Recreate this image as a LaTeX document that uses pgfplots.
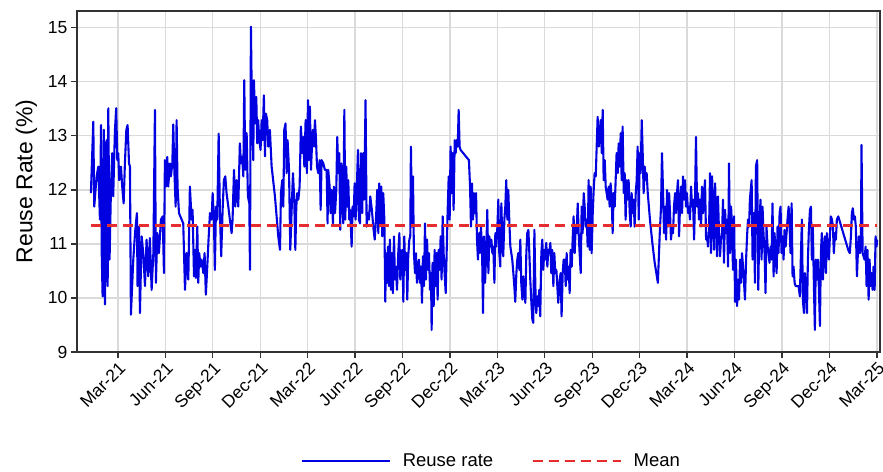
\documentclass[border=0pt]{standalone}
\usepackage{pgfplots}
\pgfplotsset{compat=1.18}
\usepackage{fontspec}
\setmainfont{Liberation Sans}
\definecolor{lineblue}{RGB}{0,0,225}
\definecolor{meanred}{RGB}{230,45,45}
\definecolor{gridgray}{RGB}{218,218,218}
\definecolor{axgray}{RGB}{50,50,50}
\begin{document}
\begin{tikzpicture}
\begin{axis}[
  scale only axis, width=803pt, height=341pt,
  xmin=-2.59, xmax=48.2, ymin=9, ymax=15.31,
  xtick={0,3,...,48},
  xticklabels={Mar-21,Jun-21,Sep-21,Dec-21,Mar-22,Jun-22,Sep-22,Dec-22,Mar-23,Jun-23,Sep-23,Dec-23,Mar-24,Jun-24,Sep-24,Dec-24,Mar-25},
  ytick={9,10,...,15},
  /pgf/number format/assume math mode=true,
  x tick label style={rotate=45, anchor=north east, font=\fontsize{17.5}{20}\selectfont, inner sep=2pt},
  y tick label style={font=\fontsize{17.5}{20}\selectfont},
  tick align=outside, xtick pos=bottom, ytick pos=left,
  major tick length=6pt,
  tick style={axgray, line width=1.3pt},
  grid=major, grid style={gridgray, line width=1.3pt},
  axis line style={axgray, line width=1.5pt},
  every axis y label/.style={at={(axis description cs:-0.063,0.5)}, rotate=90, anchor=center},
  ylabel={Reuse Rate (\%)}, ylabel style={font=\fontsize{23}{27}\selectfont},
  legend style={at={(0.516,-0.32)}, anchor=center, draw=none, fill=none, legend columns=2,
    font=\fontsize{18.5}{21}\selectfont,
    /tikz/every odd column/.append style={column sep=10pt},
    /tikz/every even column/.append style={column sep=36pt}},
  legend image code/.code={\draw[#1] (0pt,0pt) -- (88pt,0pt);},
]
\addplot[lineblue, line width=2.1pt, line join=round] table {
x y
-1.71 11.94
-1.56 13.26
-1.50 11.69
-1.35 12.25
-1.24 12.43
-1.14 11.45
-1.07 13.20
-1.03 10.89
-0.97 10.03
-0.89 13.11
-0.82 9.88
-0.72 12.92
-0.65 10.22
-0.61 13.51
-0.53 10.71
-0.44 12.06
-0.36 12.68
-0.30 11.88
-0.19 13.11
-0.11 13.51
-0.04 12.55
0.02 12.68
0.08 12.18
0.19 12.43
0.27 12.06
0.36 11.75
0.44 12.49
0.53 13.11
0.61 13.20
0.70 12.49
0.76 12.43
0.82 9.69
0.97 10.71
1.08 11.20
1.20 11.57
1.24 10.22
1.33 11.32
1.39 9.72
1.50 11.14
1.60 10.83
1.71 10.22
1.81 11.08
1.92 10.40
2.02 11.11
2.13 10.15
2.24 10.83
2.34 13.48
2.40 10.28
2.49 11.20
2.59 10.83
2.72 11.45
2.83 11.51
2.91 10.46
2.97 12.55
3.04 12.06
3.12 12.61
3.18 12.06
3.29 12.49
3.35 12.25
3.44 12.49
3.50 13.21
3.56 12.43
3.65 11.69
3.71 13.29
3.77 12.06
3.86 11.57
4.03 11.45
4.13 11.38
4.24 10.15
4.34 10.83
4.45 10.34
4.55 12.06
4.66 11.45
4.72 11.63
4.81 10.40
4.87 10.89
4.93 10.37
5.02 11.32
5.08 10.28
5.14 10.83
5.23 10.58
5.29 10.71
5.40 10.46
5.48 10.83
5.56 10.06
5.65 10.58
5.73 11.08
5.82 11.57
5.92 11.45
5.99 11.94
6.07 11.45
6.13 10.52
6.20 11.69
6.28 11.45
6.37 13.04
6.45 11.57
6.53 10.77
6.62 11.63
6.70 12.18
6.79 12.25
6.87 11.94
6.98 11.69
7.08 11.45
7.19 11.20
7.25 11.45
7.34 12.37
7.42 11.69
7.50 12.18
7.61 11.69
7.71 12.86
7.78 12.49
7.86 12.61
7.93 12.25
7.99 14.03
8.05 12.37
8.14 13.05
8.22 11.88
8.31 11.75
8.35 10.52
8.41 15.02
8.47 13.60
8.56 12.55
8.60 14.03
8.68 13.23
8.75 13.72
8.81 12.86
8.87 13.29
8.94 12.92
9.02 12.74
9.09 13.29
9.15 12.92
9.23 13.75
9.30 12.62
9.36 13.41
9.44 13.29
9.51 12.80
9.61 13.11
9.72 12.43
9.93 11.88
10.14 11.14
10.25 10.89
10.31 11.94
10.39 12.18
10.46 11.69
10.52 13.11
10.60 13.23
10.67 12.31
10.73 12.92
10.82 12.37
10.90 10.89
10.98 11.57
11.07 12.31
11.15 11.82
11.22 10.89
11.28 11.69
11.34 11.94
11.41 11.82
11.49 12.06
11.57 13.17
11.66 12.68
11.72 12.98
11.79 12.43
11.87 13.29
11.95 12.31
12.02 13.66
12.08 12.55
12.14 13.54
12.21 12.37
12.27 12.80
12.33 13.11
12.40 12.80
12.46 13.29
12.52 12.98
12.59 12.43
12.67 12.31
12.76 12.55
12.82 11.63
12.88 12.55
12.99 12.49
13.09 12.37
13.20 12.37
13.26 11.38
13.30 12.37
13.39 12.06
13.45 11.57
13.51 12.00
13.60 11.38
13.66 12.06
13.73 11.57
13.81 12.00
13.87 12.98
13.94 12.31
14.00 12.68
14.06 11.26
14.13 12.49
14.19 12.18
14.25 11.38
14.32 13.48
14.38 11.45
14.44 12.43
14.51 11.69
14.57 12.18
14.63 11.45
14.69 11.63
14.78 10.95
14.84 11.69
14.91 11.51
14.97 12.12
15.03 11.45
15.10 11.94
15.18 12.74
15.24 11.45
15.31 11.38
15.37 12.68
15.45 11.57
15.52 12.68
15.58 11.82
15.66 13.66
15.73 11.32
15.79 11.57
15.88 11.45
15.96 11.88
16.06 11.63
16.15 11.32
16.24 11.08
16.32 11.45
16.40 12.00
16.47 11.20
16.53 12.12
16.59 11.38
16.66 12.06
16.72 11.14
16.78 11.94
16.85 11.45
16.91 9.93
16.95 10.83
17.02 10.28
17.08 10.95
17.14 10.22
17.20 11.08
17.27 10.15
17.33 10.83
17.39 10.09
17.46 11.14
17.52 10.34
17.58 10.58
17.65 10.15
17.73 10.83
17.80 11.20
17.86 10.34
17.92 10.83
17.99 10.89
18.05 9.93
18.11 11.14
18.17 10.52
18.24 10.83
18.30 9.97
18.36 10.77
18.43 11.08
18.49 11.14
18.53 12.80
18.60 11.32
18.66 12.25
18.72 10.83
18.79 10.46
18.85 10.83
18.91 10.28
18.98 10.52
19.04 10.71
19.10 10.28
19.17 10.58
19.23 9.91
19.29 10.77
19.36 10.22
19.42 11.38
19.48 10.34
19.55 11.08
19.61 10.52
19.67 10.83
19.74 10.15
19.80 10.46
19.84 9.41
19.90 10.65
19.97 9.85
20.03 10.89
20.09 10.22
20.16 10.83
20.22 9.97
20.28 10.89
20.35 10.52
20.41 11.14
20.47 10.34
20.54 11.51
20.60 10.83
20.66 10.46
20.73 10.09
20.79 10.83
20.85 11.57
20.92 12.25
20.98 11.45
21.04 12.80
21.11 11.94
21.17 12.68
21.23 11.63
21.30 12.92
21.36 12.68
21.42 12.92
21.49 12.80
21.55 13.48
21.61 12.80
21.67 12.74
22.20 12.55
22.27 12.06
22.33 11.32
22.39 12.12
22.46 11.45
22.52 11.94
22.58 11.57
22.65 11.94
22.71 11.08
22.77 10.71
22.84 11.20
22.90 10.83
22.96 11.32
23.03 10.89
23.09 9.72
23.15 11.14
23.22 10.28
23.30 10.89
23.36 11.63
23.43 10.46
23.49 11.14
23.55 10.95
23.62 11.08
23.68 10.83
23.74 10.95
23.81 10.28
23.87 11.20
23.93 10.95
24.00 11.32
24.06 11.82
24.12 10.83
24.18 10.58
24.25 11.75
24.31 11.08
24.37 10.77
24.44 11.45
24.50 11.69
24.56 12.18
24.63 11.45
24.69 12.00
24.75 11.45
24.82 10.95
24.88 10.83
24.94 10.71
25.01 10.46
25.07 10.22
25.13 9.93
25.20 10.46
25.26 10.71
25.32 10.83
25.39 10.52
25.45 11.08
25.51 10.28
25.58 9.97
25.64 10.40
25.70 10.09
25.77 9.91
25.83 10.83
25.89 11.20
25.96 11.26
26.02 10.83
26.08 10.34
26.15 9.91
26.21 9.60
26.27 9.54
26.34 11.26
26.40 10.22
26.46 9.72
26.53 10.03
26.59 9.85
26.65 10.15
26.71 9.66
26.78 10.83
26.84 11.08
26.90 10.52
26.97 10.89
27.03 10.71
27.09 11.02
27.16 10.58
27.22 10.89
27.28 10.83
27.35 11.02
27.41 10.46
27.47 10.89
27.54 10.22
27.60 10.83
27.66 10.46
27.73 10.52
27.79 10.22
27.85 9.91
27.94 10.34
28.00 10.46
28.06 9.66
28.13 10.46
28.19 10.71
28.26 10.71
28.32 10.22
28.38 10.83
28.44 10.34
28.51 10.58
28.57 10.09
28.63 10.89
28.70 10.58
28.76 11.08
28.82 11.51
28.89 10.83
28.95 11.32
29.01 11.20
29.08 11.75
29.14 11.20
29.20 10.83
29.27 10.46
29.33 11.69
29.39 11.20
29.46 11.94
29.52 11.69
29.58 11.32
29.65 11.45
29.71 10.95
29.77 12.18
29.84 10.89
29.90 12.06
29.96 10.83
30.03 11.57
30.09 12.00
30.15 12.31
30.22 12.25
30.28 12.80
30.34 13.35
30.41 12.80
30.47 13.05
30.53 13.29
30.60 12.68
30.66 13.48
30.72 12.18
30.79 12.55
30.85 12.06
30.91 11.94
30.97 11.82
31.04 12.06
31.10 11.69
31.16 12.12
31.23 11.82
31.29 11.20
31.35 11.94
31.42 11.69
31.48 12.18
31.54 12.68
31.61 12.31
31.67 12.86
31.73 12.43
31.80 13.05
31.86 12.18
31.92 13.17
31.99 11.94
32.05 12.31
32.11 11.45
32.18 12.18
32.24 11.82
32.30 12.18
32.37 11.57
32.43 11.32
32.49 11.94
32.56 11.57
32.62 11.82
32.68 11.32
32.75 11.94
32.81 12.18
32.87 12.80
32.94 11.45
33.00 12.68
33.06 12.31
33.13 13.29
33.19 12.68
33.25 11.94
33.32 12.43
33.38 12.18
33.44 12.31
33.51 11.94
33.65 11.45
33.80 11.02
33.95 10.65
34.15 10.28
34.27 11.20
34.35 11.69
34.41 12.68
34.48 11.94
34.54 11.20
34.60 11.69
34.67 11.08
34.73 12.00
34.79 11.32
34.86 11.94
34.92 11.57
34.98 11.08
35.05 11.32
35.11 11.20
35.17 11.69
35.24 11.94
35.30 11.57
35.36 11.94
35.42 12.18
35.49 11.14
35.55 11.69
35.61 12.06
35.68 11.57
35.74 12.25
35.80 11.82
35.87 12.18
35.93 11.69
35.99 11.94
36.06 11.57
36.12 11.69
36.18 11.45
36.25 12.06
36.31 11.69
36.37 11.82
36.44 11.08
36.50 11.82
36.56 12.98
36.63 11.69
36.69 11.94
36.75 11.45
36.82 11.82
36.88 11.32
36.94 12.06
37.01 11.57
37.07 11.88
37.13 12.18
37.20 11.08
37.26 11.14
37.32 10.95
37.39 11.32
37.45 12.31
37.51 10.83
37.58 12.25
37.64 11.57
37.70 10.89
37.77 12.12
37.83 11.45
37.89 10.77
37.95 11.88
38.02 11.20
38.08 10.77
38.14 11.08
38.21 11.20
38.27 11.82
38.33 10.65
38.40 11.63
38.46 11.20
38.52 11.45
38.59 10.58
38.65 12.49
38.71 10.83
38.78 11.69
38.84 11.32
38.90 10.52
38.97 11.51
39.03 9.93
39.09 10.71
39.16 9.85
39.22 10.34
39.28 9.97
39.35 10.71
39.41 10.28
39.47 10.83
39.54 10.58
39.60 10.28
39.66 9.97
39.73 10.71
39.79 11.14
39.85 11.45
39.92 11.32
39.97 11.82
40.08 12.18
40.14 10.71
40.22 11.57
40.29 10.28
40.35 12.43
40.43 12.55
40.50 10.15
40.56 11.20
40.64 11.82
40.71 10.71
40.77 11.69
40.83 11.20
40.90 10.83
40.96 10.09
41.02 11.32
41.09 10.95
41.15 10.83
41.21 10.65
41.28 10.95
41.34 10.71
41.40 11.75
41.47 10.40
41.53 11.20
41.59 10.83
41.66 10.46
41.72 11.32
41.78 10.83
41.85 11.57
41.91 11.69
41.97 10.83
42.04 11.14
42.10 10.71
42.16 11.26
42.23 10.95
42.29 11.20
42.35 11.45
42.42 11.69
42.48 11.32
42.54 10.83
42.61 11.75
42.67 10.40
42.73 10.58
42.80 10.28
42.86 10.22
42.92 10.22
42.99 10.22
43.05 10.22
43.13 10.03
43.20 10.83
43.26 11.45
43.32 9.97
43.39 9.72
43.45 10.46
43.51 10.22
43.58 9.72
43.64 10.71
43.70 11.26
43.77 11.63
43.83 11.69
43.89 10.71
43.95 11.32
44.02 10.22
44.08 9.41
44.14 10.71
44.21 10.34
44.27 10.71
44.33 10.22
44.40 9.48
44.46 10.83
44.52 11.20
44.59 10.34
44.65 10.83
44.71 11.14
44.78 10.46
44.84 11.20
44.90 10.95
44.97 10.71
45.03 11.14
45.09 11.51
45.16 11.45
45.22 11.32
45.28 10.83
45.35 11.20
45.41 11.08
45.47 11.45
45.56 11.51
46.19 10.89
46.29 10.83
46.36 11.14
46.42 11.57
46.48 11.66
46.55 11.45
46.61 11.51
46.67 11.32
46.74 10.40
46.80 10.83
46.86 11.14
46.93 10.83
46.99 10.95
47.03 12.83
47.10 10.83
47.16 10.77
47.22 10.71
47.29 10.95
47.35 10.22
47.41 10.89
47.48 9.97
47.54 10.71
47.60 10.22
47.67 10.46
47.73 10.15
47.79 10.58
47.86 10.15
47.92 11.14
47.98 10.95
48.02 11.08
};
\addlegendentry{Reuse rate}
\addplot[meanred, line width=2.4pt, dash pattern=on 10pt off 6pt] coordinates {(-1.71,11.34) (48.02,11.34)};
\addlegendentry{Mean}
\end{axis}
\pgfresetboundingbox
\path[use as bounding box] ([shift={(-77pt,-119pt)}]current axis.south west) rectangle ([shift={(3pt,11pt)}]current axis.north east);
\end{tikzpicture}
\end{document}
